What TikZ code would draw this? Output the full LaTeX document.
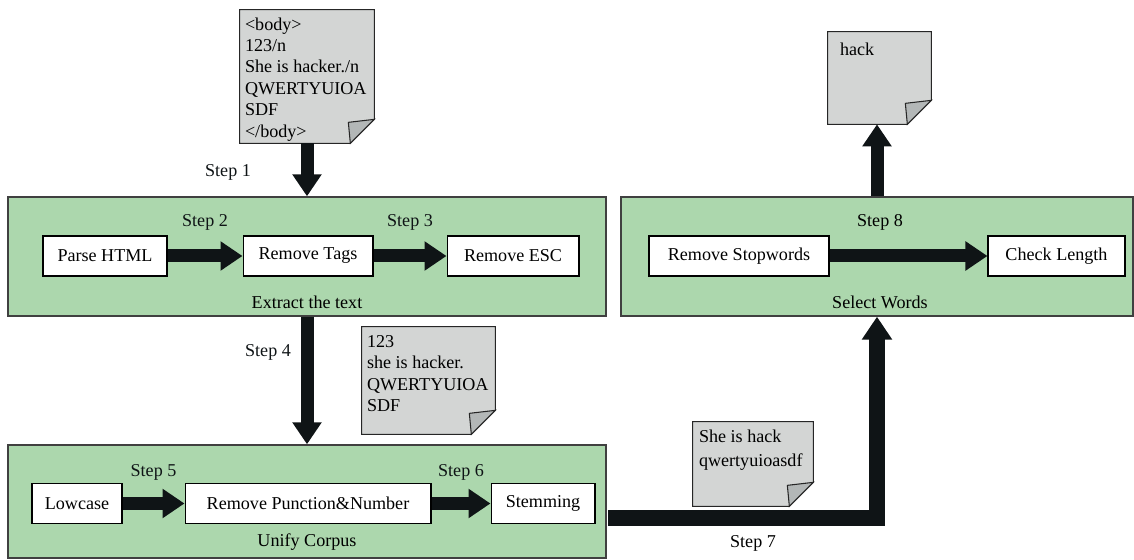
\documentclass[tikz,border=0pt]{standalone}
\usepackage{fontspec}
\setmainfont{Liberation Serif}
\usetikzlibrary{positioning}
\usetikzlibrary{arrows.meta,calc}

\definecolor{groupgreen}{HTML}{ACD7AD}
\definecolor{notegray}{HTML}{D3D5D4}
\definecolor{foldgray}{HTML}{B3B7B7}
\definecolor{arrowblack}{HTML}{0F1416}

\tikzset{
  group/.style={draw=black!75, fill=groupgreen, line width=0.8pt, inner sep=0pt},
  stepbox/.style={draw, fill=white, line width=0.6pt, minimum height=0.8cm, inner sep=0pt},
  note/.style={inner sep=0pt},
  notetext/.style={align=left, inner sep=0pt, anchor=north west},
  bigarrow/.style={line width=0.26cm, arrowblack, -{Triangle[length=0.44cm,width=0.56cm]}},
  widearrow/.style={line width=0.33cm, arrowblack, line join=miter, -{Triangle[length=0.46cm,width=0.58cm]}},
}

% the folded sheet behind a note
\newcommand{\foldnote}[1]{%
  \filldraw[fill=notegray, draw=black!85, line width=0.6pt] (#1.north west) -- (#1.north east)
    -- ([yshift=0.48cm]#1.south east) -- ([xshift=-0.48cm]#1.south east) -- (#1.south west) -- cycle;
  \filldraw[fill=foldgray, draw=black!85, line width=0.6pt] ([xshift=-0.48cm]#1.south east)
    -- ([yshift=0.48cm]#1.south east) -- ([xshift=-0.52cm,yshift=0.42cm]#1.south east) -- cycle;
}

\begin{document}
\begin{tikzpicture}[x=0.02cm, y=-0.02cm, font=\fontsize{10.3}{12.2}\selectfont]
    \useasboundingbox (0,0) rectangle (1134,560);

    % the green groups
    \node[group, minimum width=11.96cm, minimum height=2.38cm] (grp1) at (307,256.5) {};
    \node[group, minimum width=11.96cm, minimum height=2.26cm] (grp2) at (307,501.5) {};
    \node[group, minimum width=10.24cm, minimum height=2.38cm] (grp3) at (877,256.5) {};

    % first group
    \node[stepbox, minimum width=2.48cm] (parse) at (105,256) {Parse HTML};
    \node[stepbox, minimum width=2.6cm, right=1.5cm of parse] (tags) {Remove Tags};
    \node[stepbox, minimum width=2.64cm, right=1.46cm of tags] (esc) {Remove ESC};
    \node (grp1lbl) at (307,302) {Extract the text};
    \draw[bigarrow] (parse) -- (tags) node[midway, yshift=0.68cm] (s2) {Step 2};
    \draw[bigarrow] (tags) -- (esc) node[midway, yshift=0.68cm] (s3) {Step 3};

    % second group
    \node[stepbox, minimum width=1.8cm] (low) at (77,503.5) {Lowcase};
    \node[stepbox, minimum width=4.92cm, right=1.24cm of low] (punct) {Remove Punction\&Number};
    \node[stepbox, minimum width=2.08cm, right=1.18cm of punct] (stem) {Stemming};
    \node (grp2lbl) at (307,542) {Unify Corpus};
    \draw[bigarrow] (low) -- (punct) node[midway, yshift=0.63cm] (s5) {Step 5};
    \draw[bigarrow] (punct) -- (stem) node[midway, yshift=0.63cm] (s6) {Step 6};

    % third group
    \node[stepbox, minimum width=3.6cm] (stop) at (739,256) {Remove Stopwords};
    \node[stepbox, minimum width=2.74cm, right=3.16cm of stop] (length) {Check Length};
    \node (grp3lbl) at (880,302) {Select Words};
    \node (s8) at (880,222) {Step 8};
    \draw[bigarrow] (stop) -- (length);

    % the notes
    \node[note, minimum width=2.68cm, minimum height=2.66cm] (doc1) at (307,76.5) {};
    \foldnote{doc1}
    \node[notetext] (doc1t) at ([xshift=0.1cm,yshift=-0.15cm]doc1.north west)
        {<body>\\123/n\\She is hacker./n\\QWERTYUIOA\\SDF\\</body>};

    \node[note, minimum width=2.66cm, minimum height=2.14cm] (doc2) at (428.5,380.5) {};
    \foldnote{doc2}
    \node[notetext] (doc2t) at ([xshift=0.1cm,yshift=-0.17cm]doc2.north west)
        {123\\she is hacker.\\QWERTYUIOA\\SDF};

    \node[note, minimum width=2.4cm, minimum height=1.68cm] (doc3) at (753,464) {};
    \foldnote{doc3}
    \node[notetext, font=\fontsize{10.3}{13.4}\selectfont] (doc3t) at ([xshift=0.12cm,yshift=-0.16cm]doc3.north west)
        {She is hack\\qwertyuioasdf};

    \node[note, minimum width=2.06cm, minimum height=1.84cm] (doc4) at (879.5,78) {};
    \foldnote{doc4}
    \node[notetext] (doc4t) at ([xshift=0.24cm,yshift=-0.22cm]doc4.north west) {hack};

    % the arrows between groups
    \draw[bigarrow] (doc1.south) -- (grp1.north) node[pos=0.54, xshift=-1.58cm] (s1) {Step 1};
    \draw[bigarrow] (grp1.south) -- (grp2.north) node[pos=0.28, xshift=-0.78cm] (s4) {Step 4};
    \coordinate (out7) at (608,518);
    \draw[widearrow] (out7) -| (grp3.south);
    \node (s7) at (753,543) {Step 7};
    \draw[bigarrow] (grp3.north) -- (grp3.north |- doc4.south);
\end{tikzpicture}
\end{document}
